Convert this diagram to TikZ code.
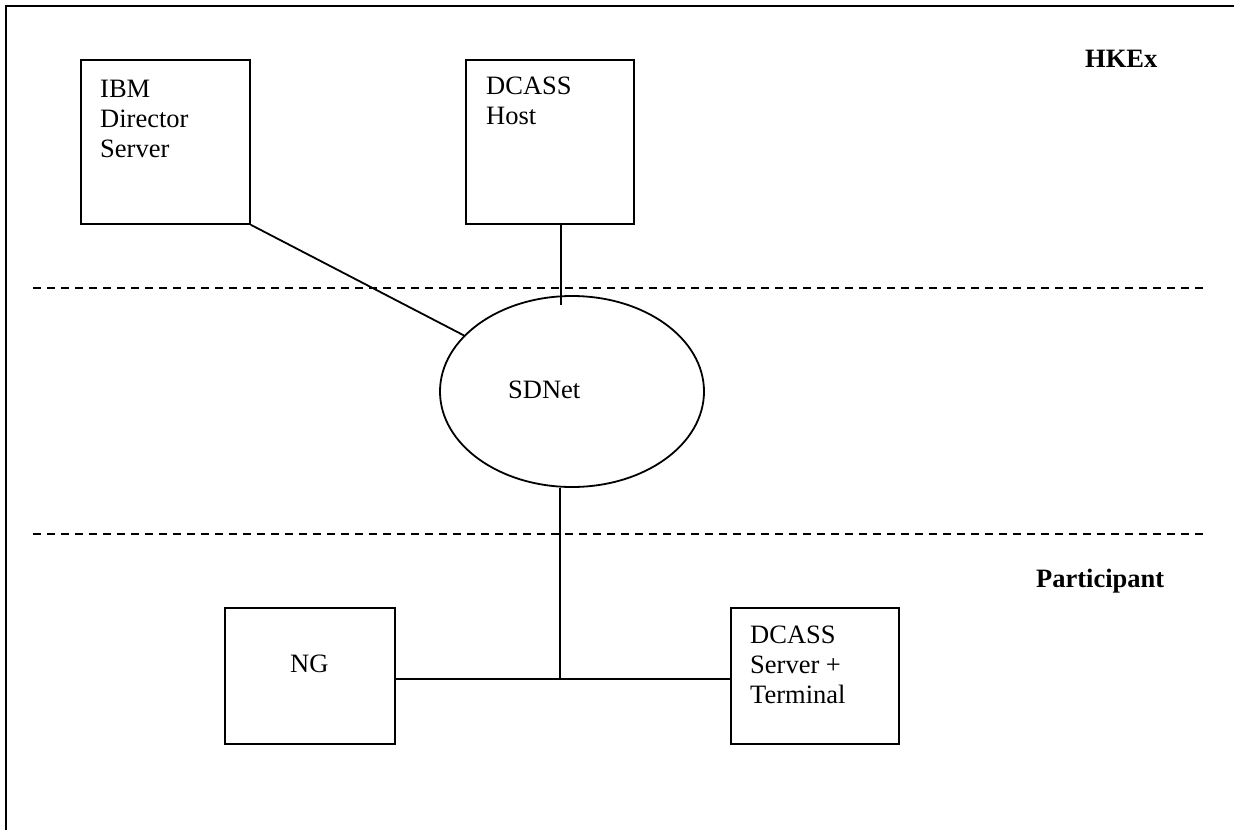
\documentclass[tikz,border=0pt]{standalone}
\usepackage{fontspec}
\setmainfont{Liberation Serif}
\usetikzlibrary{shapes.geometric}
\begin{document}
\begin{tikzpicture}[x=1pt,y=-1pt,
  box/.style={draw, line width=1.8pt, inner sep=0pt, anchor=north west},
  lbl/.style={inner sep=0pt, align=left, anchor=north west, font=\fontsize{26.5}{30}\selectfont},
  lbls/.style={inner sep=0pt, anchor=base west, font=\fontsize{26.5}{30}\selectfont},
  lblb/.style={inner sep=0pt, anchor=base west, font=\fontsize{26.5}{30}\selectfont\bfseries},
  wire/.style={line width=1.8pt},
  sep/.style={line width=1.8pt, dash pattern=on 7.5pt off 6.5pt}]
\useasboundingbox (0,0) rectangle (1234,830);
% outer frame
\draw[line width=2.2pt] (6,830) -- (6,6) -- (1234,6);
% separators
\draw[sep] (33,288) -- (1203,288);
\draw[sep] (33,534) -- (1203,534);
% boxes
\node[box, minimum width=169pt, minimum height=164pt] (ibm) at (80,59) {};
\node[box, minimum width=168pt, minimum height=164pt] (host) at (465,59) {};
\node[box, minimum width=170pt, minimum height=136pt] (ng) at (224,607) {};
\node[box, minimum width=168pt, minimum height=136pt] (dcs) at (730,607) {};
\node[draw, ellipse, line width=1.8pt, minimum width=264pt, minimum height=191pt, inner sep=0pt] (sd) at (572,391.5) {};
% texts
\node[lbl] (ibmt) at (100,80) {IBM\\Director\\Server};
\node[lbl] (hostt) at (486,77) {DCASS\\Host};
\node[lbls] (ngt) at (290,672) {NG};
\node[lbl] (dcst) at (750,626) {DCASS\\Server +\\Terminal};
\node[lbls] (sdt) at (508,398) {SDNet};
\node[lblb] (hk) at (1085,67) {HKEx};
\node[lblb] (pa) at (1036,587) {Participant};
% connectors
\coordinate (hostend) at (561,305);
\coordinate (jn) at (560,679);
\draw[wire] (ibm.south east) -- (sd);
\draw[wire] (host.south -| hostend) -- (hostend);
\draw[wire] (sd.south -| jn) -- (jn);
\draw[wire] (ng.east |- jn) -- (dcs.west |- jn);
\end{tikzpicture}
\end{document}
